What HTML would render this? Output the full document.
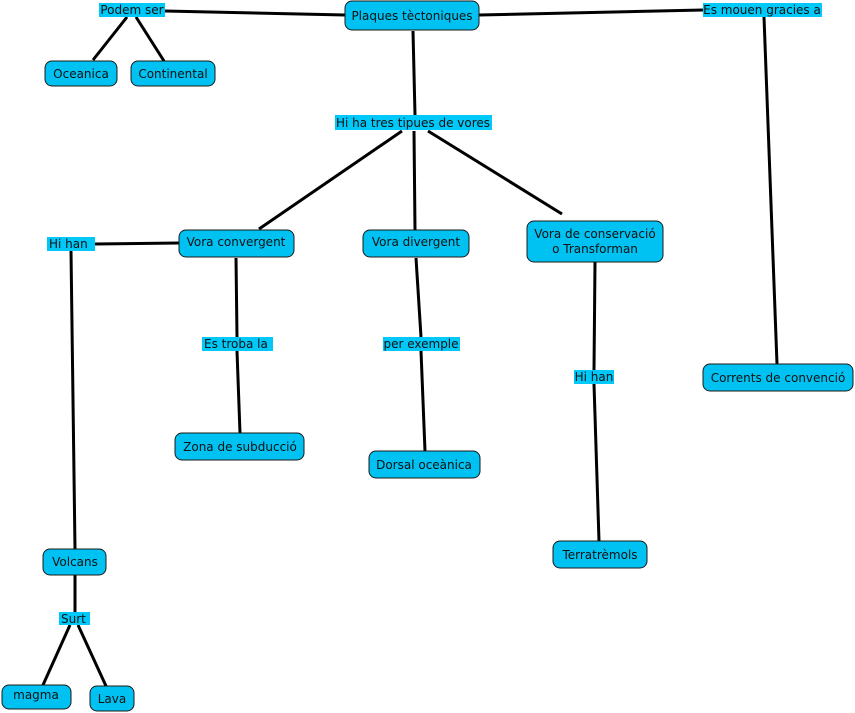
<!DOCTYPE html>
<html><head><meta charset="utf-8"><style>
html,body{margin:0;padding:0;background:#fff;width:855px;height:713px;overflow:hidden}
svg{display:block}
text{font-family:"DejaVu Sans","Liberation Sans",sans-serif;font-size:12px;fill:#111}
.n{fill:#00c2f2;stroke:#1a1a1a;stroke-width:1}
.l{fill:#00c8f8}
line{stroke:#000;stroke-width:3}
</style></head><body>
<svg width="855" height="713" viewBox="0 0 855 713">
<line x1="165" y1="11" x2="345" y2="15"/>
<line x1="479" y1="15" x2="703" y2="10"/>
<line x1="127" y1="17" x2="93" y2="60"/>
<line x1="136" y1="17" x2="164" y2="61"/>
<line x1="413" y1="31" x2="415" y2="115"/>
<line x1="402" y1="131" x2="259" y2="229"/>
<line x1="414" y1="131" x2="415" y2="230"/>
<line x1="428" y1="131" x2="562" y2="214"/>
<line x1="179" y1="243" x2="95" y2="244"/>
<line x1="71" y1="251" x2="75" y2="549"/>
<line x1="236" y1="258" x2="237" y2="337"/>
<line x1="237" y1="351" x2="240" y2="433"/>
<line x1="416" y1="258" x2="421" y2="337"/>
<line x1="421" y1="351" x2="425" y2="451"/>
<line x1="595" y1="262" x2="594" y2="370"/>
<line x1="594" y1="384" x2="599" y2="541"/>
<line x1="764" y1="17" x2="777" y2="364"/>
<line x1="75" y1="575" x2="75" y2="612"/>
<line x1="70" y1="625" x2="43" y2="685"/>
<line x1="78" y1="625" x2="106" y2="686"/>

<g>
<rect class="n" x="345" y="1" width="134" height="29" rx="7"/><text x="412" y="20" text-anchor="middle">Plaques tèctoniques</text>
<rect class="n" x="45" y="61" width="72" height="25" rx="7"/><text x="81" y="78" text-anchor="middle">Oceanica</text>
<rect class="n" x="131" y="61" width="84" height="25" rx="7"/><text x="173" y="78" text-anchor="middle">Continental</text>
<rect class="n" x="179" y="230" width="115" height="27" rx="7"/><text x="236" y="246" text-anchor="middle">Vora convergent</text>
<rect class="n" x="363" y="230" width="106" height="27" rx="7"/><text x="416" y="246" text-anchor="middle">Vora divergent</text>
<rect class="n" x="527" y="221" width="136" height="41" rx="7"/><text x="595" y="238" text-anchor="middle">Vora de conservació</text><text x="595" y="253" text-anchor="middle">o Transforman</text>
<rect class="n" x="175" y="433" width="129" height="27" rx="7"/><text x="240" y="451" text-anchor="middle">Zona de subducció</text>
<rect class="n" x="369" y="451" width="111" height="27" rx="7"/><text x="424" y="469" text-anchor="middle">Dorsal oceànica</text>
<rect class="n" x="553" y="541" width="94" height="27" rx="7"/><text x="600" y="559" text-anchor="middle">Terratrèmols</text>
<rect class="n" x="703" y="364" width="150" height="27" rx="7"/><text x="778" y="382" text-anchor="middle">Corrents de convenció</text>
<rect class="n" x="43" y="549" width="63" height="26" rx="7"/><text x="75" y="566" text-anchor="middle">Volcans</text>
<rect class="n" x="2" y="685" width="69" height="24" rx="7"/><text x="36" y="699" text-anchor="middle">magma</text>
<rect class="n" x="90" y="686" width="44" height="25" rx="7"/><text x="112" y="703" text-anchor="middle">Lava</text>
</g>
<g>
<rect class="l" x="99" y="3" width="66" height="14"/><text x="132" y="14" text-anchor="middle">Podem ser</text>
<rect class="l" x="335" y="115" width="157" height="15"/><text x="413" y="127" text-anchor="middle">Hi ha tres tipues de vores</text>
<rect class="l" x="703" y="3" width="119" height="14"/><text x="762" y="14" text-anchor="middle">Es mouen gracies a</text>
<rect class="l" x="47" y="237" width="48" height="14"/><text x="49" y="248">Hi han</text>
<rect class="l" x="202" y="337" width="71" height="14"/><text x="204" y="348">Es troba la</text>
<rect class="l" x="383" y="337" width="77" height="14"/><text x="421" y="348" text-anchor="middle">per exemple</text>
<rect class="l" x="574" y="370" width="40" height="14"/><text x="594" y="381" text-anchor="middle">Hi han</text>
<rect class="l" x="59" y="612" width="31" height="13"/><text x="61" y="623">Surt</text>
</g>
</svg>
</body></html>
